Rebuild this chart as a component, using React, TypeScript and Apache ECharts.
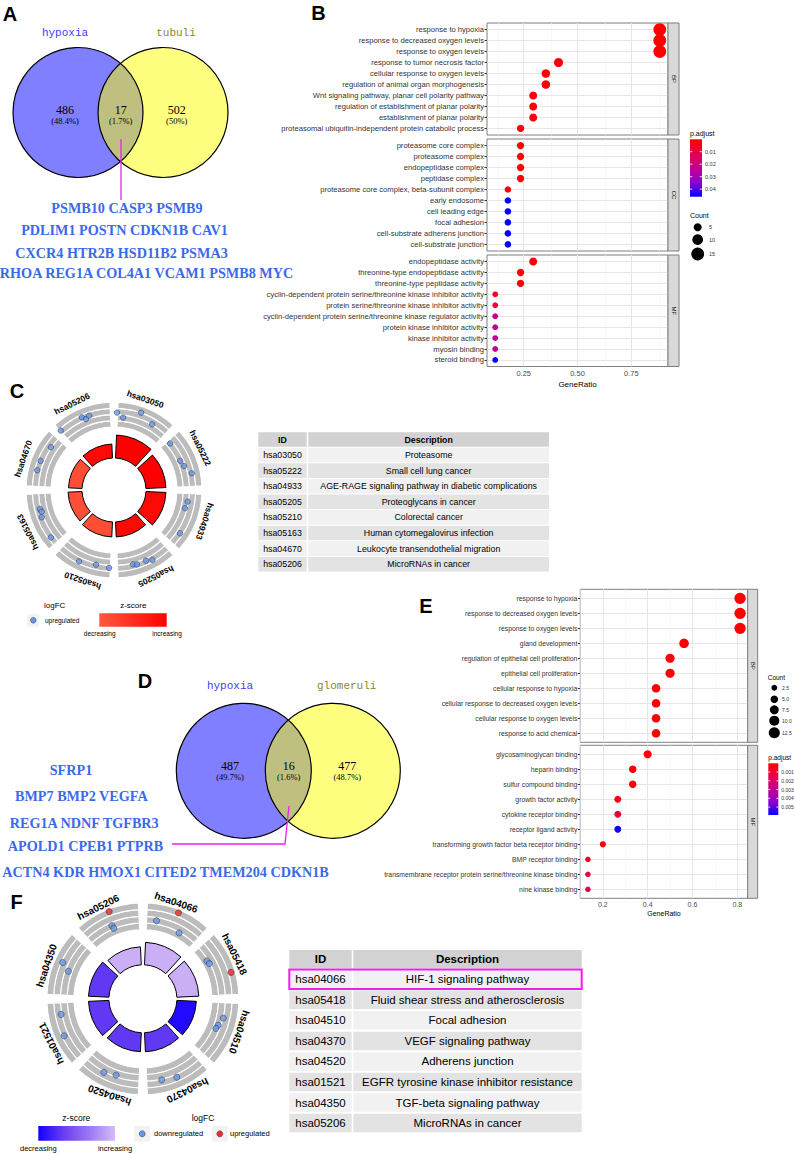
import React, { useEffect, useRef } from 'react';
import * as echarts from 'echarts';

const SANS = '"Liberation Sans", Arial, Helvetica, sans-serif';
const SERIF = '"Liberation Serif", "Times New Roman", serif';
const MONO = '"Liberation Mono", "Courier New", monospace';

// ---------------- Panel A : Venn hypoxia vs tubuli ----------------
const vennASets = ['hypoxia', 'tubuli'];
const vennACounts = ['486', '17', '502'];
const vennAPct = ['(48.4%)', '(1.7%)', '(50%)'];
const vennAGenes = [
  'PSMB10 CASP3 PSMB9',
  'PDLIM1 POSTN CDKN1B CAV1',
  'CXCR4 HTR2B HSD11B2 PSMA3',
  'RHOA REG1A COL4A1 VCAM1 PSMB8 MYC',
];

// ---------------- Panel D : Venn hypoxia vs glomeruli ----------------
const vennDSets = ['hypoxia', 'glomeruli'];
const vennDCounts = ['487', '16', '477'];
const vennDPct = ['(49.7%)', '(1.6%)', '(48.7%)'];
const vennDGenes = [
  'SFRP1',
  'BMP7 BMP2 VEGFA',
  'REG1A NDNF TGFBR3',
  'APOLD1 CPEB1 PTPRB',
  'ACTN4 KDR HMOX1 CITED2 TMEM204 CDKN1B',
];

// ---------------- Panel B : GO dot plot (tubuli) ----------------
const bFacets = ['BP', 'CC', 'MF'];
const bBpTerms = [
  'response to hypoxia',
  'response to decreased oxygen levels',
  'response to oxygen levels',
  'response to tumor necrosis factor',
  'cellular response to oxygen levels',
  'regulation of animal organ morphogenesis',
  'Wnt signaling pathway, planar cell polarity pathway',
  'regulation of establishment of planar polarity',
  'establishment of planar polarity',
  'proteasomal ubiquitin-independent protein catabolic process',
];
const bBpRatio = ['15/17', '15/17', '15/17', '7/17', '6/17', '6/17', '5/17', '5/17', '5/17', '4/17'];
const bBpPadj = [0.0002, 0.0002, 0.0002, 0.0008, 0.001, 0.001, 0.0015, 0.0015, 0.0015, 0.002];
const bCcTerms = [
  'proteasome core complex',
  'proteasome complex',
  'endopeptidase complex',
  'peptidase complex',
  'proteasome core complex, beta-subunit complex',
  'early endosome',
  'cell leading edge',
  'focal adhesion',
  'cell-substrate adherens junction',
  'cell-substrate junction',
];
const bCcRatio = ['4/17', '4/17', '4/17', '4/17', '3/17', '3/17', '3/17', '3/17', '3/17', '3/17'];
const bCcPadj = [0.0005, 0.0005, 0.0005, 0.0006, 0.002, 0.0455, 0.0455, 0.0455, 0.0455, 0.0455];
const bMfTerms = [
  'endopeptidase activity',
  'threonine-type endopeptidase activity',
  'threonine-type peptidase activity',
  'cyclin-dependent protein serine/threonine kinase inhibitor activity',
  'protein serine/threonine kinase inhibitor activity',
  'cyclin-dependent protein serine/threonine kinase regulator activity',
  'protein kinase inhibitor activity',
  'kinase inhibitor activity',
  'myosin binding',
  'steroid binding',
];
const bMfRatio = ['5/17', '4/17', '4/17', '2/17', '2/17', '2/17', '2/17', '2/17', '2/17', '2/17'];
const bMfPadj = [0.001, 0.0005, 0.0005, 0.004, 0.008, 0.021, 0.024, 0.024, 0.024, 0.0455];
const bPadjRange = [0.0001, 0.046];
const bPadjTicks = [0.01, 0.02, 0.03, 0.04];
const bCountLegend = [5, 10, 15];
const bXTicks = [0.25, 0.5, 0.75];
const bXMinor = [0.125, 0.375, 0.625, 0.875];

// ---------------- Panel E : GO dot plot (glomeruli) ----------------
const eFacets = ['BP', 'MF'];
const eBpTerms = [
  'response to hypoxia',
  'response to decreased oxygen levels',
  'response to oxygen levels',
  'gland development',
  'regulation of epithelial cell proliferation',
  'epithelial cell proliferation',
  'cellular response to hypoxia',
  'cellular response to decreased oxygen levels',
  'cellular response to oxygen levels',
  'response to acid chemical',
];
const eBpRatio = ['13/16', '13/16', '13/16', '9/16', '8/16', '8/16', '7/16', '7/16', '7/16', '7/16'];
const eBpPadj = [0.00002, 0.00002, 0.00002, 0.0001, 0.0001, 0.0001, 0.0001, 0.0001, 0.0001, 0.0001];
const eMfTerms = [
  'glycosaminoglycan binding',
  'heparin binding',
  'sulfur compound binding',
  'growth factor activity',
  'cytokine receptor binding',
  'receptor ligand activity',
  'transforming growth factor beta receptor binding',
  'BMP receptor binding',
  'transmembrane receptor protein serine/threonine kinase binding',
  'nine kinase binding',
];
const eMfRatio = ['6/15', '5/15', '5/15', '4/15', '4/15', '4/15', '3/15', '2/15', '2/15', '2/15'];
const eMfPadj = [0.0001, 0.0002, 0.0002, 0.0004, 0.0011, 0.0058, 0.0003, 0.0008, 0.0012, 0.0015];
const ePadjRange = [0.00001, 0.0059];
const ePadjTicks = [0.001, 0.002, 0.003, 0.004, 0.005];
const eCountLegend = [2.5, 5, 7.5, 10, 12.5];
const eXTicks = [0.2, 0.4, 0.6, 0.8];
const eXMinor = [0.1, 0.3, 0.5, 0.7];

// ---------------- Panel C : GOCircle (tubuli KEGG) ----------------
const cIds = ['hsa03050', 'hsa05222', 'hsa04933', 'hsa05205', 'hsa05210', 'hsa05163', 'hsa04670', 'hsa05206'];
const cDesc = [
  'Proteasome',
  'Small cell lung cancer',
  'AGE-RAGE signaling pathway in diabetic complications',
  'Proteoglycans in cancer',
  'Colorectal cancer',
  'Human cytomegalovirus infection',
  'Leukocyte transendothelial migration',
  'MicroRNAs in cancer',
];
const cSignif = [11.5, 10, 10, 7.5, 7.5, 7, 6.8, 7];
const cZ = [2.0, 2.0, 1.9, 1.9, 1.15, 1.15, 1.15, 1.9];
const cGeneAngle = [0.05, 0.16, 0.43, 0.67, 1.12, 1.47, 1.58, 1.73, 2.2, 2.32, 2.74, 3.68, 3.62, 3.46, 3.36, 4.58, 4.3, 4.08, 5.68, 5.63, 5.54, 5.18, 6.76, 6.48, 6.32, 7.07, 7.47, 7.52, 7.59];
const cGeneLfc = [1.45, 1.0, 1.9, 1.3, 1.0, 0.93, 1.1, 1.65, 1.15, 1.03, 1.6, 1.38, 1.48, 1.45, 1.68, 1.65, 1.38, 1.5, 1.35, 1.25, 1.43, 1.6, 1.33, 1.6, 1.63, 1.68, 1.65, 1.33, 1.53];

// ---------------- Panel F : GOCircle (glomeruli KEGG) ----------------
const fIds = ['hsa04066', 'hsa05418', 'hsa04510', 'hsa04370', 'hsa04520', 'hsa01521', 'hsa04350', 'hsa05206'];
const fDesc = [
  'HIF-1 signaling pathway',
  'Fluid shear stress and atherosclerosis',
  'Focal adhesion',
  'VEGF signaling pathway',
  'Adherens junction',
  'EGFR tyrosine kinase inhibitor resistance',
  'TGF-beta signaling pathway',
  'MicroRNAs in cancer',
];
const fSignif = [11.25, 11, 9.75, 9.5, 9.5, 10.25, 10.25, 9];
const fZ = [-0.58, -0.58, -1.73, -1.41, -1.41, -1.41, -1.41, -0.58];
const fGeneAngle = [0.22, 0.5, 0.64, 1.32, 1.38, 1.63, 2.3, 2.43, 2.49, 3.71, 3.48, 4.62, 4.43, 5.76, 5.44, 6.54, 6.45, 7.53, 7.49, 7.5];
const fGeneLfc = [-1.91, 0.9, -2.74, -2.9, -2.74, 0.68, -1.2, -1.8, -2.02, -1.09, -0.65, -1.09, -1.58, -1.09, -0.32, -0.15, -1.86, 1.0, -1.86, -2.52];

// ---------------- colour scales ----------------
const padjColors = ['#ff0000', '#e6004e', '#c30090', '#8f00d0', '#0000ff'];
const cZColors = ['#ff5a3f', '#ff0000'];
const fZColors = ['#1400ff', '#6a3ef2', '#9d78f4', '#d4bcf8'];
const upColor = '#ee2a2a';
const downColor = '#6495ed';

// ---------------- helpers ----------------
const parseRatio = (s: string) => {
  const [a, b] = s.split('/').map(Number);
  return { ratio: a / b, count: a };
};
const areaSize = (dom: number[], rng: number[]) => (v: number) => {
  const t = (v - dom[0]) / (dom[1] - dom[0]);
  return Math.sqrt(rng[0] * rng[0] + t * (rng[1] * rng[1] - rng[0] * rng[0]));
};
const expand = (vals: number[]) => {
  const lo = Math.min(...vals);
  const hi = Math.max(...vals);
  const p = (hi - lo) * 0.05;
  return [lo - p, hi + p];
};

function buildOption() {
  const G: any[] = [];
  const txt = (text: string, x: number, y: number, o: any = {}) => ({
    type: 'text', x, y, rotation: o.rot || 0, z: 100, silent: true,
    style: {
      text, x: 0, y: 0, fill: o.color || '#000', fontSize: o.size || 8,
      fontFamily: o.family || SANS, fontWeight: o.weight || 'normal',
      align: o.align || 'center', verticalAlign: o.va || 'middle',
    },
  });
  const rect = (x: number, y: number, w: number, h: number, style: any) => ({ type: 'rect', z: 99, silent: true, shape: { x, y, width: w, height: h }, style });
  const circ = (cx: number, cy: number, r: number, style: any) => ({ type: 'circle', z: 99, silent: true, shape: { cx, cy, r }, style });
  const seg = (x1: number, y1: number, x2: number, y2: number, style: any) => ({ type: 'line', z: 99, silent: true, shape: { x1, y1, x2, y2 }, style });

  // panel letters
  [['A', 10, 13.5], ['B', 318.5, 12.5], ['C', 17, 390.5], ['D', 145, 681], ['E', 426, 606], ['F', 16.7, 901.5]].forEach(([l, x, y]: any) =>
    G.push(txt(l, x, y, { size: 20, weight: 'bold' })));

  // ---------- Venn diagrams ----------
  const venn = (c: any) => {
    G.push(circ(c.lx, c.cy, c.r, { fill: 'rgba(0,0,255,0.5)' }));
    G.push(circ(c.rx, c.cy, c.r, { fill: 'rgba(255,255,0,0.5)' }));
    G.push(circ(c.lx, c.cy, c.r, { fill: 'none', stroke: '#000', lineWidth: 1.2 }));
    G.push(circ(c.rx, c.cy, c.r, { fill: 'none', stroke: '#000', lineWidth: 1.2 }));
    G.push(txt(c.sets[0], c.setX[0], c.setY, { family: MONO, size: 11, color: '#3c3cff' }));
    G.push(txt(c.sets[1], c.setX[1], c.setY, { family: MONO, size: 11, color: '#8a8a1e' }));
    c.counts.forEach((n: string, i: number) => {
      G.push(txt(n, c.numX[i], c.numY - 0.6, { family: SERIF, size: 12 }));
      G.push(txt(c.pct[i], c.numX[i], c.numY + 10, { family: SERIF, size: 8.5 }));
    });
    c.genes.forEach((g: string, i: number) =>
      G.push(txt(g, c.geneX[i], c.geneY[i], { family: SERIF, size: 14.2, weight: 'bold', color: '#3b6ae8' })));
    G.push({ type: 'polyline', z: 99, silent: true, shape: { points: c.link }, style: { fill: 'none', stroke: '#f01ef0', lineWidth: 1.3 } });
  };
  venn({
    lx: 78, rx: 163, cy: 112.5, r: 65, sets: vennASets, setX: [65, 176], setY: 33,
    counts: vennACounts, pct: vennAPct, numX: [65, 120.7, 176.7], numY: 110.7,
    genes: vennAGenes, geneX: [127, 124.5, 121.5, 146.5], geneY: [207.5, 229.5, 252.8, 273.3],
    link: [[121, 139], [121, 200]],
  });
  venn({
    lx: 243.8, rx: 332.8, cy: 770.8, r: 67.5, sets: vennDSets, setX: [230, 346.7], setY: 686,
    counts: vennDCounts, pct: vennDPct, numX: [230, 288.7, 347.3], numY: 766.7,
    genes: vennDGenes, geneX: [71, 81.3, 84.2, 85.5, 165.5], geneY: [770, 796, 822.5, 845.8, 871.7],
    link: [[289, 806], [285, 844], [172, 844]],
  });

  // ---------- dot plots ----------
  const grids: any[] = [];
  const xAxes: any[] = [];
  const yAxes: any[] = [];
  const series: any[] = [];

  const dotPanel = (o: any) => {
    const gi = grids.length;
    grids.push({ left: o.left, top: o.top, width: o.width, height: o.height, show: true, borderColor: '#7f7f7f', borderWidth: 1, backgroundColor: '#fff', containLabel: false });
    xAxes.push({
      type: 'value', gridIndex: gi, min: o.xr[0], max: o.xr[1],
      axisLine: { show: false }, splitLine: { show: false },
      axisTick: { show: o.bottom, customValues: o.xTicks, length: 2.5, lineStyle: { color: '#333', width: 1 } },
      axisLabel: { show: o.bottom, customValues: o.xTicks, formatter: (v: number) => v.toFixed(o.dec), fontSize: o.tickSize, color: '#4d4d4d', fontFamily: SANS, margin: 3 },
      name: o.bottom ? 'GeneRatio' : '', nameLocation: 'middle', nameGap: o.nameGap,
      nameTextStyle: { fontSize: o.nameSize, color: '#000', fontFamily: SANS },
    });
    const rows = o.terms.map((_: string, j: number) => j);
    yAxes.push({
      type: 'value', gridIndex: gi, min: -0.6, max: o.terms.length - 0.4, inverse: true,
      axisLine: { show: false }, splitLine: { show: false },
      axisTick: { show: true, customValues: rows, length: 2.5, lineStyle: { color: '#333', width: 1 } },
      axisLabel: { customValues: rows, formatter: (v: number) => o.terms[Math.round(v)], fontSize: o.labelSize, color: '#333', fontFamily: SANS, margin: 3 },
    });
    const ml: any[] = [];
    o.xMinor.forEach((v: number) => ml.push({ xAxis: v, lineStyle: { color: '#f3f3f3', width: 0.6, type: 'solid' } }));
    o.xTicks.forEach((v: number) => ml.push({ xAxis: v, lineStyle: { color: '#e6e6e6', width: 1, type: 'solid' } }));
    rows.forEach((j: number) => ml.push({ yAxis: j, lineStyle: { color: '#e6e6e6', width: 1, type: 'solid' } }));
    series.push({
      type: 'line', xAxisIndex: gi, yAxisIndex: gi, data: [], z: 1, silent: true,
      markLine: { silent: true, z: 1, symbol: ['none', 'none'], label: { show: false }, data: ml },
    });
    const si = series.length;
    series.push({
      type: 'scatter', xAxisIndex: gi, yAxisIndex: gi, z: 10, symbol: 'circle',
      data: o.terms.map((_: string, j: number) => {
        const r = parseRatio(o.ratios[j]);
        return [r.ratio, j, r.count, o.padj[j]];
      }),
      symbolSize: (v: number[]) => o.sizeFn(v[2]),
      itemStyle: { opacity: 1 },
    });
    // strip
    G.push(rect(o.left + o.width, o.top, o.stripW, o.height, { fill: '#d9d9d9', stroke: '#7f7f7f', lineWidth: 1 }));
    G.push(txt(o.facet, o.left + o.width + o.stripW / 2, o.top + o.height / 2, { size: 6, rot: -Math.PI / 2, color: '#1a1a1a' }));
    return si;
  };

  // Panel B
  const bAllRatios = [...bBpRatio, ...bCcRatio, ...bMfRatio].map((s) => parseRatio(s));
  const bXr = expand(bAllRatios.map((r) => r.ratio));
  const bCounts = bAllRatios.map((r) => r.count);
  const bSize = areaSize([Math.min(...bCounts), Math.max(...bCounts)], [5.8, 12.8]);
  const bTerms = [bBpTerms, bCcTerms, bMfTerms];
  const bRatios = [bBpRatio, bCcRatio, bMfRatio];
  const bPadj = [bBpPadj, bCcPadj, bMfPadj];
  const bTops = [23, 139, 255];
  const bIdx = bFacets.map((f, i) => dotPanel({
    left: 487, top: bTops[i], width: 181, height: i === 2 ? 111.5 : 112, stripW: 11, facet: f,
    terms: bTerms[i], ratios: bRatios[i], padj: bPadj[i], xr: bXr, xTicks: bXTicks, xMinor: bXMinor,
    bottom: i === 2, dec: 2, tickSize: 7.5, nameGap: 13.5, nameSize: 8, labelSize: 7.6, sizeFn: bSize,
  }));

  // Panel E
  const eAllRatios = [...eBpRatio, ...eMfRatio].map((s) => parseRatio(s));
  const eXr = expand(eAllRatios.map((r) => r.ratio));
  const eCounts = eAllRatios.map((r) => r.count);
  const eSize = areaSize([Math.min(...eCounts), Math.max(...eCounts)], [5.5, 11.3]);
  const eTerms = [eBpTerms, eMfTerms];
  const eRatios = [eBpRatio, eMfRatio];
  const ePadj = [eBpPadj, eMfPadj];
  const eTops = [589.3, 745.3];
  const eIdx = eFacets.map((f, i) => dotPanel({
    left: 580.3, top: eTops[i], width: 167.4, height: 153, stripW: 10, facet: f,
    terms: eTerms[i], ratios: eRatios[i], padj: ePadj[i], xr: eXr, xTicks: eXTicks, xMinor: eXMinor,
    bottom: i === 1, dec: 1, tickSize: 7, nameGap: 12, nameSize: 7, labelSize: 6.8, sizeFn: eSize,
  }));

  // B / E legends
  const vGrad = (cols: string[]) => new echarts.graphic.LinearGradient(0, 0, 0, 1, cols.map((c, i) => ({ offset: i / (cols.length - 1), color: c })));
  const hGrad = (cols: string[]) => new echarts.graphic.LinearGradient(0, 0, 1, 0, cols.map((c, i) => ({ offset: i / (cols.length - 1), color: c })));
  const colorbar = (o: any) => {
    G.push(txt('p.adjust', o.x, o.titleY, { size: o.titleSize, align: 'left' }));
    G.push(rect(o.x, o.y, o.w, o.h, { fill: vGrad(o.cols) }));
    o.ticks.forEach((t: number) => {
      const yy = o.y + ((t - o.range[0]) / (o.range[1] - o.range[0])) * o.h;
      G.push(seg(o.x, yy, o.x + o.w * 0.2, yy, { stroke: '#fff', lineWidth: 0.8 }));
      G.push(seg(o.x + o.w * 0.8, yy, o.x + o.w, yy, { stroke: '#fff', lineWidth: 0.8 }));
      G.push(txt(String(t), o.x + o.w + 3, yy, { size: o.labSize, align: 'left', color: '#333' }));
    });
  };
  const countLegend = (o: any) => {
    G.push(txt('Count', o.x, o.titleY, { size: o.titleSize, align: 'left' }));
    o.values.forEach((v: number, k: number) => {
      G.push(circ(o.dotX, o.ys[k], o.sizeFn(v) / 2, { fill: '#000' }));
      G.push(txt(o.fmt(v), o.labX, o.ys[k], { size: o.labSize, align: 'left', color: '#333' }));
    });
  };
  colorbar({ x: 690, y: 139.3, w: 12, h: 57.4, titleY: 133, titleSize: 7, cols: padjColors, ticks: bPadjTicks, range: bPadjRange, labSize: 5.5 });
  countLegend({ x: 690, titleY: 215, titleSize: 7, values: bCountLegend, dotX: 697.7, ys: [227.3, 239.7, 254], labX: 709, labSize: 5.5, sizeFn: bSize, fmt: (v: number) => String(v) });
  countLegend({ x: 767.7, titleY: 677, titleSize: 6.5, values: eCountLegend, dotX: 774.3, ys: [687.7, 699.3, 709.8, 720.7, 732.7], labX: 782, labSize: 5, sizeFn: eSize, fmt: (v: number) => v.toFixed(1) });
  colorbar({ x: 768.3, y: 763.3, w: 10, h: 51.7, titleY: 757, titleSize: 6.5, cols: padjColors, ticks: ePadjTicks, range: ePadjRange, labSize: 5 });

  // ---------- GO circles ----------
  const polars: any[] = [];
  const angleAxes: any[] = [];
  const radiusAxes: any[] = [];
  const hidden = { axisLine: { show: false }, axisTick: { show: false }, axisLabel: { show: false }, splitLine: { show: false }, splitArea: { show: false } };
  const goCircle = (o: any) => {
    const p0 = polars.length;
    polars.push({ center: o.center, radius: o.barR });
    polars.push({ center: o.center, radius: o.trackR });
    polars.push({ center: o.center, radius: o.trackR });
    angleAxes.push({ polarIndex: p0, type: 'category', data: o.ids, startAngle: 90, clockwise: true, ...hidden });
    angleAxes.push({ polarIndex: p0 + 1, type: 'category', data: o.ids, startAngle: 90, clockwise: true, ...hidden });
    angleAxes.push({ polarIndex: p0 + 2, type: 'value', min: 0, max: o.ids.length, startAngle: 90, clockwise: true, ...hidden });
    radiusAxes.push({ polarIndex: p0, type: 'value', min: 0, max: 12, ...hidden });
    radiusAxes.push({ polarIndex: p0 + 1, type: 'value', min: 0, max: 4, ...hidden });
    radiusAxes.push({ polarIndex: p0 + 2, type: 'value', min: o.lfcRange[0], max: o.lfcRange[1], ...hidden });
    const bi = series.length;
    series.push({
      type: 'bar', coordinateSystem: 'polar', polarIndex: p0, z: 2, silent: true,
      data: o.ids.map((_: string, i: number) => [o.signif[i], i, o.z[i]]), encode: { radius: 0, angle: 1 },
      barCategoryGap: '12%', itemStyle: { borderColor: '#000', borderWidth: 1 },
    });
    for (let k = 0; k < 4; k++) {
      series.push({
        type: 'bar', coordinateSystem: 'polar', polarIndex: p0 + 1, stack: 'track' + p0, z: 2, silent: true,
        data: o.ids.map((_: string, i: number) => [1, i]), encode: { radius: 0, angle: 1 },
        barCategoryGap: '12%', itemStyle: { color: '#bcbcbc', borderColor: '#fff', borderWidth: 1.1 },
      });
    }
    series.push({
      type: 'scatter', coordinateSystem: 'polar', polarIndex: p0 + 2, z: 5, silent: true,
      data: o.angles.map((a: number, k: number) => [o.lfc[k], a]), encode: { radius: 0, angle: 1 },
      symbolSize: o.dot, itemStyle: { color: o.colorFn, borderColor: '#2b2b2b', borderWidth: 0.6 },
    });
    // labels
    const n = o.ids.length;
    o.ids.forEach((id: string, i: number) => {
      const th = ((i + 0.5) * 360) / n - 3.5;
      const rad = (th * Math.PI) / 180;
      G.push(txt(id, o.center[0] + o.labelR * Math.sin(rad), o.center[1] - o.labelR * Math.cos(rad), { size: o.labelSize, weight: 'bold', rot: -rad }));
    });
    return bi;
  };
  const cBar = goCircle({
    center: [114, 490], barR: [32, 56], trackR: [63, 88], ids: cIds, signif: cSignif, z: cZ,
    angles: cGeneAngle, lfc: cGeneLfc, lfcRange: [0, 2.5], dot: 5.5, colorFn: () => downColor, labelR: 96, labelSize: 8.5,
  });
  const fBar = goCircle({
    center: [142.9, 998.8], barR: [34, 58], trackR: [69, 96], ids: fIds, signif: fSignif, z: fZ,
    angles: fGeneAngle, lfc: fGeneLfc, lfcRange: [-4, 1.5], dot: 6.2,
    colorFn: (p: any) => (p.value[0] > 0 ? upColor : downColor), labelR: 102, labelSize: 10,
  });

  // C legend
  G.push(txt('logFC', 54.7, 605, { size: 8 }));
  G.push(rect(27.3, 614, 12, 12.7, { fill: '#f2f2f2' }));
  G.push(circ(33.3, 620.3, 2.8, { fill: downColor, stroke: '#333', lineWidth: 0.5 }));
  G.push(txt('upregulated', 45, 620.3, { size: 6.5, align: 'left' }));
  G.push(txt('z-score', 133.3, 605, { size: 8 }));
  G.push(rect(99.3, 613.3, 67.4, 13.4, { fill: hGrad(cZColors) }));
  G.push(txt('decreasing', 99.7, 633.7, { size: 6.5 }));
  G.push(txt('increasing', 167, 633.7, { size: 6.5 }));

  // F legend
  G.push(txt('z-score', 76.3, 1117.7, { size: 8.5 }));
  G.push(rect(38.3, 1126, 76.7, 14.7, { fill: hGrad(fZColors) }));
  G.push(txt('decreasing', 38.3, 1148.5, { size: 7.5 }));
  G.push(txt('increasing', 115, 1148.5, { size: 7.5 }));
  G.push(txt('logFC', 203, 1117.7, { size: 8.5 }));
  G.push(rect(134.3, 1126, 15.7, 15.7, { fill: '#f2f2f2' }));
  G.push(circ(142.2, 1133.8, 3, { fill: downColor, stroke: '#333', lineWidth: 0.5 }));
  G.push(txt('downregulated', 154, 1133.8, { size: 7.5, align: 'left' }));
  G.push(rect(212, 1126, 15.7, 15.7, { fill: '#f2f2f2' }));
  G.push(circ(219.8, 1133.8, 3, { fill: upColor, stroke: '#333', lineWidth: 0.5 }));
  G.push(txt('upregulated', 230, 1133.8, { size: 7.5, align: 'left' }));

  // ---------- tables ----------
  const table = (o: any) => {
    G.push(rect(o.x, o.headY, o.idW, o.headH, { fill: '#d2d2d2' }));
    G.push(rect(o.dx, o.headY, o.dW, o.headH, { fill: '#d2d2d2' }));
    G.push(txt('ID', o.x + o.idW / 2, o.headY + o.headH / 2, { size: o.size, weight: 'bold' }));
    G.push(txt('Description', o.dx + o.dW / 2, o.headY + o.headH / 2, { size: o.size, weight: 'bold' }));
    o.ids.forEach((id: string, i: number) => {
      const y = o.rowY + i * o.pitch;
      const fill = i % 2 === 0 ? '#f1f1f1' : '#e3e3e3';
      G.push(rect(o.x, y, o.idW, o.rowH, { fill }));
      G.push(rect(o.dx, y, o.dW, o.rowH, { fill }));
      G.push(txt(id, o.x + o.idW / 2, y + o.rowH / 2, { size: o.size }));
      G.push(txt(o.desc[i], o.dx + o.dW / 2, y + o.rowH / 2, { size: o.size }));
    });
  };
  table({ x: 258.3, idW: 48.4, dx: 308.3, dW: 240.7, headY: 432.3, headH: 14.4, rowY: 447.7, pitch: 15.6, rowH: 14.6, size: 8.8, ids: cIds, desc: cDesc });
  table({ x: 289.3, idW: 62.4, dx: 353.3, dW: 228.4, headY: 950, headH: 18.3, rowY: 970, pitch: 20.55, rowH: 18.5, size: 11.5, ids: fIds, desc: fDesc });
  G.push({ type: 'rect', z: 101, silent: true, shape: { x: 289.3, y: 969.6, width: 292.4, height: 19.3 }, style: { fill: 'none', stroke: '#f21cf2', lineWidth: 2 } });

  const visualMap = [
    { type: 'continuous', show: false, seriesIndex: bIdx, dimension: 3, min: bPadjRange[0], max: bPadjRange[1], inRange: { color: padjColors } },
    { type: 'continuous', show: false, seriesIndex: eIdx, dimension: 3, min: ePadjRange[0], max: ePadjRange[1], inRange: { color: padjColors } },
    { type: 'continuous', show: false, seriesIndex: [cBar], dimension: 2, min: 1.0, max: 2.0, inRange: { color: cZColors } },
    { type: 'continuous', show: false, seriesIndex: [fBar], dimension: 2, min: -1.8, max: -0.5, inRange: { color: fZColors } },
  ];

  return {
    animation: false,
    backgroundColor: '#fff',
    textStyle: { fontFamily: SANS },
    grid: grids,
    xAxis: xAxes,
    yAxis: yAxes,
    polar: polars,
    angleAxis: angleAxes,
    radiusAxis: radiusAxes,
    visualMap,
    series,
    graphic: { elements: G },
  };
}

export default function App() {
  const ref = useRef<HTMLDivElement>(null);
  useEffect(() => {
    if (!ref.current) return;
    const chart = echarts.init(ref.current, undefined, { renderer: 'svg' });
    chart.setOption(buildOption() as any);
    return () => chart.dispose();
  }, []);
  return <div ref={ref} style={{ position: 'fixed', left: 0, top: 0, width: 795, height: 1154, background: '#fff' }} />;
}
